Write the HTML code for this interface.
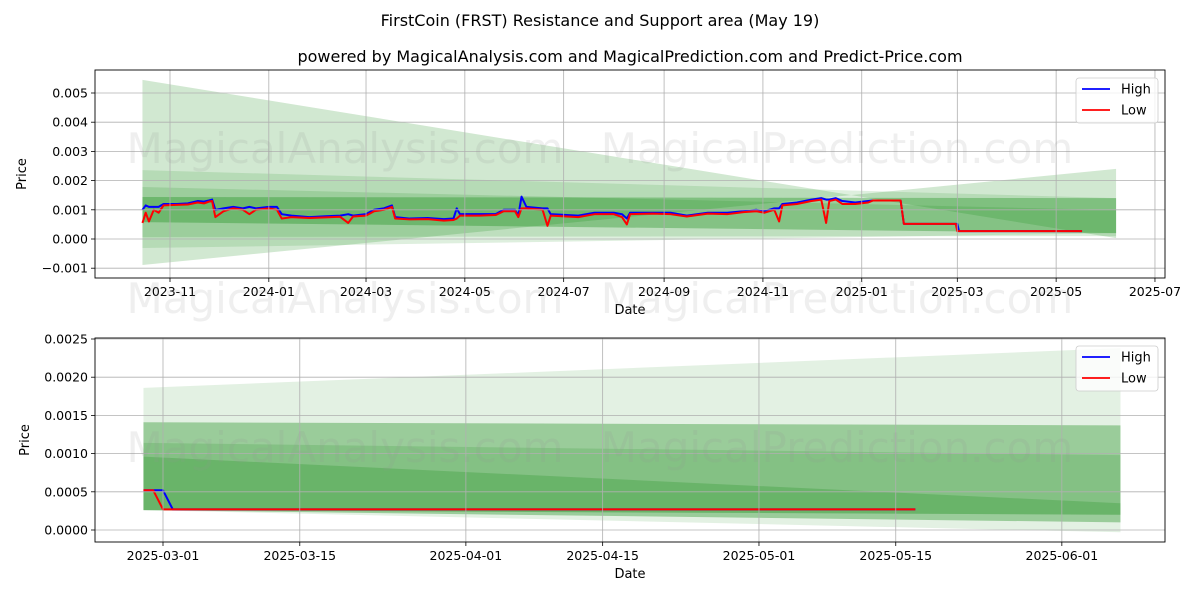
<!DOCTYPE html>
<html><head><meta charset="utf-8">
<style>
html,body{margin:0;padding:0;background:#fff;}
svg{display:block;font-family:"DejaVu Sans","Liberation Sans",sans-serif;}
</style></head>
<body>
<svg id="chart" width="1200" height="600" viewBox="0 0 1200 600" xmlns="http://www.w3.org/2000/svg">
<rect width="1200" height="600" fill="#fff"/>
<text x="600" y="26" text-anchor="middle" font-size="16">FirstCoin (FRST) Resistance and Support area (May 19)</text>
<text x="630" y="62" text-anchor="middle" font-size="16">powered by MagicalAnalysis.com and MagicalPrediction.com and Predict-Price.com</text>
<g id="top"></g>
<g id="bottom"></g>
</svg>
<script>
// ---- data (values in units of 0.001) ----
const dates = ["2023-10-15","2023-10-17","2023-10-19","2023-10-22","2023-10-25","2023-10-28","2023-11-05","2023-11-12","2023-11-18","2023-11-22","2023-11-25","2023-11-27","2023-11-29","2023-12-04","2023-12-10","2023-12-16","2023-12-20","2023-12-24","2024-01-01","2024-01-06","2024-01-09","2024-01-15","2024-01-26","2024-02-05","2024-02-14","2024-02-19","2024-02-22","2024-03-01","2024-03-06","2024-03-12","2024-03-17","2024-03-19","2024-03-28","2024-04-08","2024-04-18","2024-04-24","2024-04-26","2024-04-28","2024-05-10","2024-05-20","2024-05-25","2024-06-01","2024-06-03","2024-06-05","2024-06-08","2024-06-18","2024-06-21","2024-06-23","2024-07-10","2024-07-20","2024-08-01","2024-08-06","2024-08-09","2024-08-11","2024-08-25","2024-09-05","2024-09-15","2024-09-28","2024-10-10","2024-10-20","2024-10-28","2024-11-02","2024-11-08","2024-11-11","2024-11-13","2024-11-22","2024-12-01","2024-12-07","2024-12-10","2024-12-12","2024-12-16","2024-12-20","2024-12-28","2025-01-05","2025-01-08","2025-01-25","2025-01-27","2025-02-27","2025-02-28","2025-03-01","2025-03-02","2025-05-17"];
const highs = [1.0,1.15,1.1,1.1,1.1,1.2,1.2,1.22,1.3,1.28,1.32,1.35,1.0,1.05,1.1,1.05,1.1,1.05,1.1,1.1,0.85,0.8,0.75,0.78,0.8,0.85,0.8,0.85,1.0,1.05,1.15,0.75,0.7,0.72,0.68,0.7,1.05,0.85,0.85,0.85,1.0,1.0,0.8,1.45,1.1,1.05,1.05,0.85,0.8,0.9,0.9,0.85,0.7,0.9,0.9,0.9,0.8,0.9,0.9,0.95,1.0,0.95,1.05,1.05,1.2,1.25,1.35,1.4,1.35,1.35,1.4,1.3,1.25,1.3,1.32,1.32,0.52,0.52,0.52,0.52,0.27,0.27];
const lows  = [0.55,0.9,0.6,1.0,0.9,1.15,1.17,1.18,1.25,1.22,1.28,1.3,0.75,0.95,1.05,1.0,0.85,1.0,1.05,1.0,0.7,0.75,0.72,0.74,0.76,0.55,0.77,0.8,0.95,1.0,1.1,0.7,0.67,0.68,0.63,0.65,0.7,0.8,0.8,0.82,0.95,0.95,0.75,1.05,1.05,1.0,0.45,0.8,0.75,0.85,0.85,0.75,0.5,0.85,0.87,0.85,0.77,0.87,0.85,0.92,0.95,0.9,1.0,0.6,1.15,1.2,1.3,1.35,0.55,1.3,1.35,1.2,1.2,1.25,1.32,1.32,0.52,0.52,0.52,0.27,0.27,0.27];
// bands: start/end hi & lo
const topBandStart = "2023-10-15", topBandEnd = "2025-06-07";
const topBandHi0 = [5.45, 2.36, 1.78, 1.44];
const topBandLo0 = [-0.89, -0.31, 0.07, 0.58];
const topBandHi1 = [0.03, 1.40, 0.99, 1.40];
const topBandLo1 = [2.4, 0.2, 0.1, 0.2];
const topBandAlpha = [0.18, 0.13, 0.14, 0.3];
const botBandStart = "2025-02-27", botBandEnd = "2025-06-07";
const botBandHi0 = [1.86, 1.41, 1.14, 0.96];
const botBandLo0 = [0.26, 0.26, 0.26, 0.26];
const botBandHi1 = [2.38, 1.37, 0.98, 0.35];
const botBandLo1 = [-0.03, 0.1, 0.2, 0.2];
const botBandAlpha = [0.11, 0.32, 0.14, 0.2];
const topYTicks = [-1,0,1,2,3,4,5];
const topYLabels = ["\u22120.001","0.000","0.001","0.002","0.003","0.004","0.005"];
const topXTicks = ["2023-11-01","2024-01-01","2024-03-01","2024-05-01","2024-07-01","2024-09-01","2024-11-01","2025-01-01","2025-03-01","2025-05-01","2025-07-01"];
const topXLabels = ["2023-11","2024-01","2024-03","2024-05","2024-07","2024-09","2024-11","2025-01","2025-03","2025-05","2025-07"];
const botYTicks = [0,0.5,1.0,1.5,2.0,2.5];
const botYLabels = ["0.0000","0.0005","0.0010","0.0015","0.0020","0.0025"];
const botXTicks = ["2025-03-01","2025-03-15","2025-04-01","2025-04-15","2025-05-01","2025-05-15","2025-06-01"];

const NS = "http://www.w3.org/2000/svg";
function dayOf(s){return (Date.parse(s+"T00:00:00Z"))/86400000;}
function mk(tag, attrs, parent){const e=document.createElementNS(NS,tag);for(const k in attrs)e.setAttribute(k,attrs[k]);parent.appendChild(e);return e;}

function drawPanel(g, cfg){
  const {L,R,T,B,x,y} = cfg;
  const clipId = cfg.id+"-clip";
  const defs = mk("defs",{},g);
  const cp = mk("clipPath",{id:clipId},defs);
  mk("rect",{x:L,y:T,width:R-L,height:B-T},cp);
  const plot = mk("g",{"clip-path":"url(#"+clipId+")"},g);
  
  
  for(let i=0;i<cfg.hi0.length;i++){
    const x0=x(dayOf(cfg.bs)), x1=x(dayOf(cfg.be));
    const pts=[[x0,y(cfg.hi0[i])],[x1,y(cfg.hi1[i])],[x1,y(cfg.lo1[i])],[x0,y(cfg.lo0[i])]];
    const p=mk("polygon",{points:pts.map(a=>a.join(",")).join(" "),fill:"rgba(0,128,0,"+cfg.alpha[i]+")"},plot);
    
    
  }
  cfg.xt.forEach((t,i)=>{
    const xx=x(dayOf(t));
    const gl=mk("line",{x1:xx,x2:xx,y1:T,y2:B,stroke:"#b0b0b0","stroke-width":0.8},g);
    
    
    mk("line",{x1:xx,x2:xx,y1:B,y2:B+4,stroke:"#000","stroke-width":0.8},g);
    const tx=mk("text",{x:xx,y:B+18,"text-anchor":"middle","font-size":12.5},g);
    tx.textContent=cfg.xl[i];
    
    
  });
  cfg.yt.forEach((v,i)=>{
    const yy=y(v);
    const gl=mk("line",{x1:L,x2:R,y1:yy,y2:yy,stroke:"#b0b0b0","stroke-width":0.8},g);
    
    
    mk("line",{x1:L-4,x2:L,y1:yy,y2:yy,stroke:"#000","stroke-width":0.8},g);
    const tx=mk("text",{x:L-7,y:yy+4.5,"text-anchor":"end","font-size":12.5},g);
    tx.textContent=cfg.yl[i];
    
    
  });
  [[345,"MagicalAnalysis.com"],[837,"MagicalPrediction.com"]].forEach(w=>{
    const t=mk("text",{x:w[0],y:cfg.wm,"text-anchor":"middle","font-size":42,fill:"rgba(150,150,150,0.15)"},g);
    t.textContent=w[1];
    
    
  });
  const idx=[];dates.forEach((d,i)=>{if(dayOf(d)>=dayOf(cfg.from))idx.push(i);});
  const hp=idx.map(i=>x(dayOf(dates[i]))+","+y(highs[i])).join(" ");
  const lp=idx.map(i=>x(dayOf(dates[i]))+","+y(lows[i])).join(" ");
  const hl=mk("polyline",{points:hp,fill:"none",stroke:"#0000ff","stroke-width":2,"stroke-linejoin":"round"},plot);
  
  
  const ll=mk("polyline",{points:lp,fill:"none",stroke:"#ff0000","stroke-width":2,"stroke-linejoin":"round"},plot);
  
  
  const fr=mk("rect",{x:L,y:T,width:R-L,height:B-T,fill:"none",stroke:"#000","stroke-width":0.9},g);
  
  
  const xl=mk("text",{x:(L+R)/2,y:B+36,"text-anchor":"middle","font-size":13},g);
  xl.textContent="Date";
  
  
  const yl=mk("text",{x:0,y:0,"text-anchor":"middle","font-size":13,transform:"translate("+cfg.ytx+","+((T+B)/2)+") rotate(-90)"},g);
  yl.textContent="Price";
  
  
  const lg=mk("g",{},g);
  
  
  mk("rect",{x:1076,y:T+8,width:82,height:45,rx:3,fill:"rgba(255,255,255,0.8)",stroke:"#ccc","stroke-width":0.8},lg);
  [["High","#0000ff",T+19],["Low","#ff0000",T+40]].forEach(e=>{
    const eg=mk("g",{},lg);
    
    
    mk("line",{x1:1082,x2:1110,y1:e[2],y2:e[2],stroke:e[1],"stroke-width":1.8},eg);
    const t=mk("text",{x:1121,y:e[2]+4.5,"font-size":13},eg);
    t.textContent=e[0];
  });
}

const top0=dayOf("2023-11-01");
drawPanel(document.getElementById("top"),{id:"top",L:95,R:1165,T:70,B:278,
  x:d=>170+(d-top0)*1.62, y:v=>239-v*29.2,
  hi0:topBandHi0,lo0:topBandLo0,hi1:topBandHi1,lo1:topBandLo1,alpha:topBandAlpha,bs:topBandStart,be:topBandEnd,
  xt:topXTicks,xl:topXLabels,yt:topYTicks,yl:topYLabels,wm:163,ytx:26,from:"2023-01-01"});
const bot0=dayOf("2025-03-01");
drawPanel(document.getElementById("bottom"),{id:"bottom",L:95,R:1165,T:338,B:542,
  x:d=>163+(d-bot0)*9.77, y:v=>530-v*76.4,
  hi0:botBandHi0,lo0:botBandLo0,hi1:botBandHi1,lo1:botBandLo1,alpha:botBandAlpha,bs:botBandStart,be:botBandEnd,
  xt:botXTicks,xl:botXTicks,yt:botYTicks,yl:botYLabels,wm:462,ytx:29,from:"2025-02-27"});
[[345,"MagicalAnalysis.com"],[837,"MagicalPrediction.com"]].forEach(w=>{
  const t=mk("text",{x:w[0],y:313,"text-anchor":"middle","font-size":42,fill:"rgba(150,150,150,0.15)"},document.getElementById("chart"));
  t.textContent=w[1];
  
  
});
</script>
</body></html>
